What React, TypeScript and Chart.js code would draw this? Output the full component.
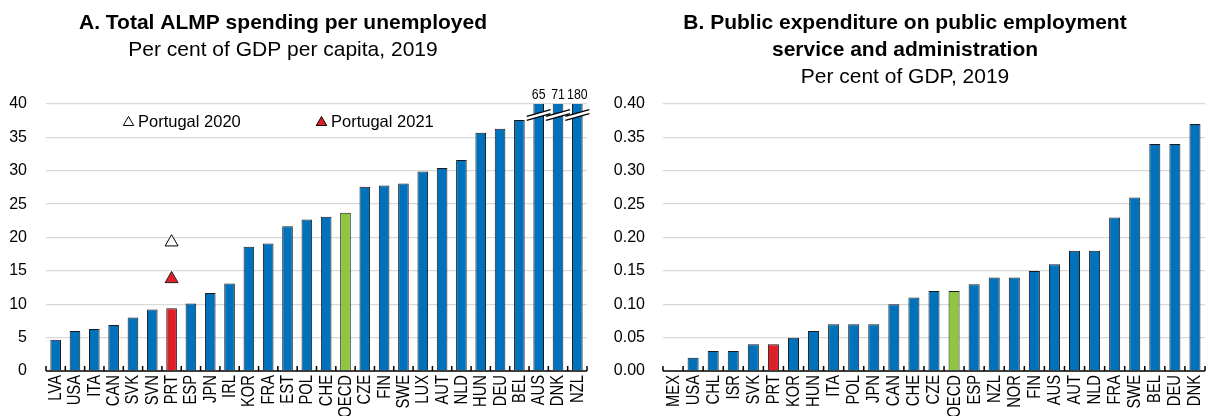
import React, { useEffect, useRef } from "react";
import { Chart, registerables } from "chart.js";

Chart.register(...registerables);

const FONT = "'Liberation Sans', Arial, Helvetica, sans-serif";
const CONDENSE = 0.82;

// Panel A: Total ALMP spending per unemployed (% of GDP per capita, 2019)
const catA = [
  "LVA", "USA", "ITA", "CAN", "SVK", "SVN", "PRT", "ESP", "JPN", "IRL",
  "KOR", "FRA", "EST", "POL", "CHE", "OECD", "CZE", "FIN", "SWE", "LUX",
  "AUT", "NLD", "HUN", "DEU", "BEL", "AUS", "DNK", "NZL",
];
const valA = [
  4.7, 6.0, 6.3, 6.9, 8.0, 9.2, 9.4, 10.1, 11.7, 13.1,
  18.6, 19.1, 21.7, 22.7, 23.1, 23.7, 27.6, 27.8, 28.1, 29.9,
  30.4, 31.6, 35.7, 36.3, 37.6, 65, 71, 180,
];
const portugal2020 = 19.3;
const portugal2021 = 13.8;
const ticksA = { min: 0, max: 40, step: 5 };

// Panel B: Public expenditure on PES and administration (% of GDP, 2019)
const catB = [
  "MEX", "USA", "CHL", "ISR", "SVK", "PRT", "KOR", "HUN", "ITA", "POL",
  "JPN", "CAN", "CHE", "CZE", "OECD", "ESP", "NZL", "NOR", "FIN", "AUS",
  "AUT", "NLD", "FRA", "SWE", "BEL", "DEU", "DNK",
];
const valB = [
  0.0, 0.02, 0.03, 0.03, 0.04, 0.04, 0.05, 0.06, 0.07, 0.07,
  0.07, 0.10, 0.11, 0.12, 0.12, 0.13, 0.14, 0.14, 0.15, 0.16,
  0.18, 0.18, 0.23, 0.26, 0.34, 0.34, 0.37,
];
const ticksB = { min: 0, max: 0.4, step: 0.05 };

const titleA = [
  { text: "A. Total ALMP spending per unemployed", bold: true },
  { text: "Per cent of GDP per capita, 2019", bold: false },
];
const titleB = [
  { text: "B. Public expenditure on public employment", bold: true },
  { text: "service and administration", bold: true },
  { text: "Per cent of GDP, 2019", bold: false },
];

const BLUE = "#0072BC";
const RED = "#DD2027";
const GREEN = "#8DC63F";

const colorsFor = (cats: string[]) =>
  cats.map((c) => (c === "PRT" ? RED : c === "OECD" ? GREEN : BLUE));

function drawTriangle(ctx: CanvasRenderingContext2D, x: number, y: number, r: number, fill: string) {
  ctx.beginPath();
  ctx.moveTo(x, y - r);
  ctx.lineTo(x + r * 0.866, y + r * 0.5);
  ctx.lineTo(x - r * 0.866, y + r * 0.5);
  ctx.closePath();
  ctx.fillStyle = fill;
  ctx.fill();
  ctx.strokeStyle = "#000";
  ctx.lineWidth = 1;
  ctx.stroke();
}

type PanelCfg = {
  titles: { text: string; bold: boolean }[];
  titleX: number;
  legend: boolean;
  breaks: boolean;
  yMax: number;
};

function makeDecor(cfg: PanelCfg) {
  return {
    id: "panelDecor",
    afterDraw(chart: any) {
      const ctx: CanvasRenderingContext2D = chart.ctx;
      const { left, right, bottom, top } = chart.chartArea;
      const xs = chart.scales.x;
      const n = chart.data.labels.length;
      const half = (xs.getPixelForValue(1) - xs.getPixelForValue(0)) / 2;
      ctx.save();

      // titles
      ctx.fillStyle = "#000";
      ctx.textAlign = "center";
      ctx.textBaseline = "alphabetic";
      cfg.titles.forEach((t, i) => {
        ctx.font = `${t.bold ? "bold " : ""}21px ${FONT}`;
        ctx.fillText(t.text, cfg.titleX, 29 + i * 27);
      });

      // x axis line with upward ticks at category boundaries
      ctx.strokeStyle = "#000";
      ctx.lineWidth = 1.5;
      ctx.beginPath();
      ctx.moveTo(left, bottom);
      ctx.lineTo(right, bottom);
      for (let i = 0; i <= n; i++) {
        const x = i < n ? xs.getPixelForValue(i) - half : xs.getPixelForValue(n - 1) + half;
        ctx.moveTo(x, bottom);
        ctx.lineTo(x, bottom - 5);
      }
      ctx.stroke();

      // category labels (condensed, rotated, reading upward) from the x scale
      ctx.fillStyle = "#000";
      ctx.font = `18px ${FONT}`;
      ctx.textAlign = "right";
      ctx.textBaseline = "middle";
      for (let i = 0; i < n; i++) {
        const label = String(xs.getLabelForValue(i));
        ctx.save();
        ctx.translate(xs.getPixelForValue(i) + 0.5, bottom + 4);
        ctx.rotate(-Math.PI / 2);
        ctx.scale(CONDENSE, 1);
        ctx.fillText(label, 0, 0);
        ctx.restore();
      }

      // broken bars with values
      if (cfg.breaks) {
        const meta = chart.getDatasetMeta(0);
        const data = chart.data.datasets[0].data as number[];
        data.forEach((v, i) => {
          if (v <= cfg.yMax) return;
          const el = meta.data[i];
          const x = el.x;
          const yb = top + 11;
          const dx = 12;
          const dy = 3.3;
          ctx.fillStyle = "#fff";
          ctx.beginPath();
          ctx.moveTo(x - dx, yb + dy - 2);
          ctx.lineTo(x + dx, yb - dy - 2);
          ctx.lineTo(x + dx, yb - dy + 2);
          ctx.lineTo(x - dx, yb + dy + 2);
          ctx.closePath();
          ctx.fill();
          ctx.strokeStyle = "#000";
          ctx.lineWidth = 1.3;
          ctx.beginPath();
          ctx.moveTo(x - dx, yb + dy - 2);
          ctx.lineTo(x + dx, yb - dy - 2);
          ctx.moveTo(x - dx, yb + dy + 2);
          ctx.lineTo(x + dx, yb - dy + 2);
          ctx.stroke();
          ctx.fillStyle = "#000";
          ctx.font = `15px ${FONT}`;
          ctx.textAlign = "center";
          ctx.textBaseline = "middle";
          ctx.save();
          ctx.translate(x, top - 9);
          ctx.scale(CONDENSE, 1);
          ctx.fillText(String(v), 0, 0);
          ctx.restore();
        });
      }

      // legend
      if (cfg.legend) {
        ctx.font = `16.5px ${FONT}`;
        ctx.textAlign = "left";
        ctx.textBaseline = "middle";
        drawTriangle(ctx, 128.5, 122.5, 6, "#fff");
        ctx.fillStyle = "#000";
        ctx.fillText("Portugal 2020", 138, 122);
        drawTriangle(ctx, 321.5, 122.5, 6, RED);
        ctx.fillStyle = "#000";
        ctx.fillText("Portugal 2021", 331, 122);
      }
      ctx.restore();
    },
  };
}

type ChartProps = {
  cats: string[];
  vals: number[];
  ticks: { min: number; max: number; step: number };
  decimals: number;
  yAxisWidth: number;
  yPad: number;
  rightPad: number;
  width: number;
  cfg: PanelCfg;
  markers: boolean;
};

function Panel(p: ChartProps) {
  const ref = useRef<HTMLCanvasElement | null>(null);
  useEffect(() => {
    if (!ref.current) return;
    const datasets: any[] = [
      {
        type: "bar",
        data: p.vals,
        backgroundColor: colorsFor(p.cats),
        borderColor: "#1a1a1a",
        borderWidth: 1,
        barPercentage: 0.55,
        categoryPercentage: 1,
        order: 3,
      },
    ];
    if (p.markers) {
      datasets.push({
        type: "line",
        data: p.cats.map((c) => (c === "PRT" ? portugal2021 : null)),
        showLine: false,
        pointStyle: "triangle",
        pointRadius: 7.5,
        backgroundColor: RED,
        borderColor: "#222",
        borderWidth: 1,
        order: 1,
      });
      datasets.push({
        type: "line",
        data: p.cats.map((c) => (c === "PRT" ? portugal2020 : null)),
        showLine: false,
        pointStyle: "triangle",
        pointRadius: 7.5,
        backgroundColor: "#fff",
        borderColor: "#000",
        borderWidth: 1,
        order: 1,
      });
    }
    const chart = new Chart(ref.current, {
      type: "bar",
      data: { labels: p.cats, datasets },
      options: {
        responsive: false,
        animation: false,
        events: [],
        layout: { padding: { top: 104, right: p.rightPad, bottom: 0, left: 0 } },
        plugins: {
          legend: { display: false },
          tooltip: { enabled: false },
          title: { display: false },
        },
        scales: {
          x: {
            grid: { display: false, drawTicks: false },
            border: { display: false },
            ticks: { display: false, autoSkip: false },
            afterFit: (s: any) => {
              s.height = 45;
              s.paddingLeft = 0;
              s.paddingRight = 0;
            },
          },
          y: {
            min: p.ticks.min,
            max: p.ticks.max,
            grid: {
              color: (c: any) => (c.tick && c.tick.value === 0 ? "rgba(0,0,0,0)" : "#d9d9d9"),
              lineWidth: 1.3,
              drawTicks: false,
            },
            border: { display: false },
            ticks: {
              stepSize: p.ticks.step,
              padding: p.yPad,
              color: "#000",
              font: { family: FONT, size: 16 },
              callback: (v: any) => Number(v).toFixed(p.decimals),
            },
            afterFit: (s: any) => {
              s.width = p.yAxisWidth;
              s.paddingTop = 0;
              s.paddingBottom = 0;
            },
          },
        },
      } as any,
      plugins: [makeDecor(p.cfg)],
    });
    return () => chart.destroy();
  }, []);
  return <canvas ref={ref} width={p.width} height={416} style={{ display: "block", width: p.width, height: 416 }} />;
}

export default function App() {
  return (
    <div style={{ position: "fixed", left: 0, top: 0, width: 1207, height: 416, background: "#fff", overflow: "hidden" }}>
      <div style={{ position: "absolute", left: 0, top: 0 }}>
        <Panel
          cats={catA}
          vals={valA}
          ticks={ticksA}
          decimals={0}
          yAxisWidth={46}
          yPad={19}
          rightPad={13}
          width={600}
          markers={true}
          cfg={{ titles: titleA, titleX: 283, legend: true, breaks: true, yMax: ticksA.max }}
        />
      </div>
      <div style={{ position: "absolute", left: 600, top: 0 }}>
        <Panel
          cats={catB}
          vals={valB}
          ticks={ticksB}
          decimals={2}
          yAxisWidth={63}
          yPad={18}
          rightPad={2}
          width={607}
          markers={false}
          cfg={{ titles: titleB, titleX: 305, legend: false, breaks: false, yMax: ticksB.max }}
        />
      </div>
    </div>
  );
}
